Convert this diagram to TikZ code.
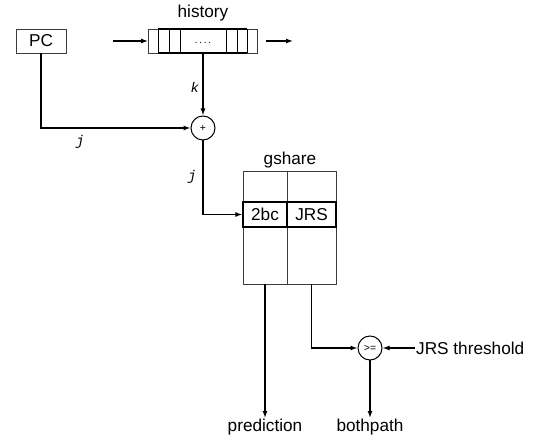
\documentclass[tikz,border=0pt]{standalone}
\usepackage{fontspec}
\setmainfont{Liberation Sans}
\newfontfamily\varfont{Liberation Mono}
\usetikzlibrary{arrows.meta, positioning}
\definecolor{boxgray}{HTML}{3C3C3C}

\tikzset{
  cell/.style={draw=boxgray, line width=0.8pt, inner sep=0pt},
  rowcell/.style={draw, line width=1.2pt, inner sep=0pt, minimum height=25pt},
  op/.style={draw, circle, line width=1pt, minimum size=24pt, inner sep=0pt, font=\fontsize{10.5}{10.5}\selectfont},
  wire/.style={line width=1.3pt, ->},
  var/.style={font=\fontsize{14}{14}\varfont\itshape}
}

\begin{document}
\begin{tikzpicture}[x=1pt, y=-1pt, >={Latex[length=7pt,width=5pt]}, font=\fontsize{17.2}{19}\selectfont]
  \useasboundingbox (0,0) rectangle (533,438);

  % PC und history
  \node[cell, minimum width=50pt, minimum height=24pt] (pc) at (41,41) {PC};
  \node[cell, minimum width=109pt, minimum height=24pt] (hist) at (203,41) {};
  \node (histlbl) at (203,13) {history};
  \foreach \x in {158,169,180,226,237,247}
    \draw[line width=1pt] (\x,29) -- (\x,53);
  \draw[line width=1.2pt] (158,29) -- (247,29) (158,53) -- (247,53);
  \node[anchor=base, font=\fontsize{10}{10}\selectfont] (dots) at (203,44) {.\,.\,.\,.};
  \coordinate (hin) at (113,41);
  \coordinate (hout) at (293,41);
  \draw[wire] (hin) -- (hist.west);
  \draw[wire] ([xshift=8pt]hist.east) -- (hout);

  % XOR
  \node[op] (xor) at (203,128) {+};
  \draw[wire] (hist.south) -- (xor.north) node[pos=0.55, left, var] {k};
  \draw[wire] (pc.south) |- (xor.west);
  \node[var] (jone) at (80,142) {j};

  % gshare table
  \node[cell, minimum width=93pt, minimum height=113pt] (gshare) at (289.5,227.5) {};
  \node (gsharelbl) at (290,160) {gshare};
  \draw[boxgray, line width=0.8pt] (287,171) -- (287,284);
  \node[rowcell, minimum width=44pt] (bc) at (265,214.5) {2bc};
  \node[rowcell, minimum width=49pt] (jrs) at (311.5,214.5) {JRS};
  \draw[wire] (xor.south) |- (bc.west);
  \node[var] (jtwo) at (192,177) {j};

  % Ausgaenge
  \node[op] (cmp) at (370,348) {>=};
  \node[anchor=west, inner sep=1pt] (thr) at (415,348) {JRS threshold};
  \node[anchor=north, inner sep=1pt] (pred) at (265,418) {prediction};
  \node[anchor=north, inner sep=1pt] (both) at (370,418) {bothpath};
  \draw[wire] (bc.south |- gshare.south) -- (pred.north);
  \draw[wire] (jrs.south |- gshare.south) |- (cmp.west);
  \draw[wire] (thr.west) -- (cmp.east);
  \draw[wire] (cmp.south) -- (both.north);
\end{tikzpicture}
\end{document}
